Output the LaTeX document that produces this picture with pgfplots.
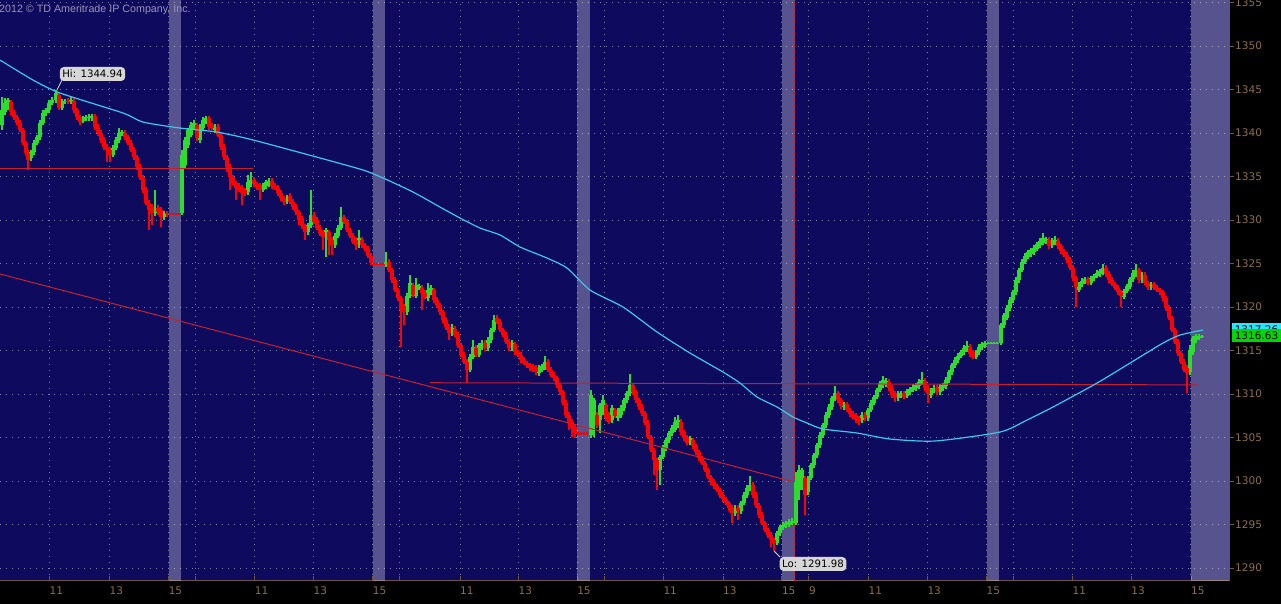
\documentclass[border=0pt]{standalone}
\usepackage{fontspec}
\usepackage{pgfplots}
\usepackage{pgfplotstable}
\pgfplotsset{compat=1.18}
\newfontfamily\dv{DejaVu Sans}
\newfontfamily\lib{Liberation Sans}
\definecolor{bg}{RGB}{14,10,94}
\definecolor{gridc}{RGB}{125,125,165}
\definecolor{axc}{RGB}{110,85,60}
\definecolor{labc}{RGB}{140,110,72}
\definecolor{upc}{RGB}{45,220,45}
\definecolor{dnc}{RGB}{255,0,0}
\definecolor{mac}{RGB}{60,200,235}
\definecolor{lvl}{RGB}{200,30,45}
\definecolor{boxg}{RGB}{215,215,215}
\definecolor{pgreen}{RGB}{0,215,0}
\definecolor{pcyan}{RGB}{40,230,255}

\pgfplotstableread{
x o h l c
2 1340.9 1344.1 1340.3 1342.6
5 1342.4 1344.0 1342.1 1343.5
8 1343.2 1344.0 1342.6 1343.8
31 1337.1 1338.1 1336.8 1337.8
34 1337.8 1339.2 1337.5 1338.9
37 1338.9 1339.8 1338.6 1339.5
40 1339.5 1341.5 1339.2 1341.2
43 1341.2 1342.6 1340.9 1342.3
46 1342.3 1342.9 1342.0 1342.6
49 1342.6 1343.8 1342.3 1343.5
52 1343.5 1344.1 1343.2 1343.8
56 1343.8 1344.94 1343.5 1344.6
62 1342.9 1343.9 1342.6 1343.6
65 1343.6 1343.9 1343.3 1343.7
71 1343.6 1344.1 1343.3 1343.8
83 1341.4 1342.0 1341.1 1341.7
86 1341.7 1342.1 1341.4 1341.8
89 1341.7 1342.2 1341.4 1341.8
92 1341.7 1342.2 1341.4 1341.9
113 1337.5 1338.6 1337.2 1338.3
116 1338.3 1339.5 1338.0 1339.2
119 1339.2 1340.6 1338.9 1340.0
122 1339.9 1340.4 1339.6 1340.1
155 1330.8 1333.45 1330.5 1331.4
164 1330.35 1331.0 1330.0 1330.7
182 1330.8 1338.05 1330.6 1337.5
185 1336.3 1339.5 1336.0 1339.2
188 1338.6 1340.6 1338.3 1340.35
191 1339.8 1341.3 1339.5 1340.9
194 1340.6 1341.5 1340.3 1341.2
200 1339.2 1341.0 1338.9 1340.7
203 1340.6 1341.8 1340.3 1341.5
206 1341.3 1342.0 1341.0 1341.7
215 1340.35 1341.0 1340.0 1340.7
248 1333.2 1335.2 1332.9 1334.4
251 1334.1 1335.5 1333.8 1334.6
263 1333.45 1334.3 1333.2 1334.0
266 1333.9 1334.6 1333.6 1334.4
269 1334.1 1334.8 1333.8 1334.5
287 1332.1 1332.9 1331.8 1332.5
308 1328.6 1329.7 1328.3 1329.4
311 1329.4 1333.45 1329.1 1330.6
326 1328.05 1329.1 1325.75 1328.85
335 1327.1 1328.5 1326.8 1328.2
338 1328.2 1329.4 1327.9 1329.1
341 1329.1 1331.5 1328.8 1330.35
359 1327.1 1328.85 1326.8 1327.9
386 1324.9 1326.3 1324.6 1325.2
407 1319.4 1321.6 1319.1 1321.3
410 1321.3 1323.7 1321.0 1322.75
416 1321.3 1323.3 1321.0 1322.5
419 1322.2 1322.7 1321.9 1322.4
428 1321.0 1322.75 1320.7 1321.95
431 1321.7 1322.5 1321.4 1322.2
452 1317.0 1318.0 1316.7 1317.6
470 1312.8 1314.6 1312.5 1314.3
473 1314.3 1316.2 1314.0 1315.4
479 1314.5 1315.9 1314.2 1315.6
482 1315.4 1316.2 1315.1 1315.9
488 1315.3 1316.5 1315.0 1316.2
491 1316.2 1317.6 1315.9 1317.35
494 1317.35 1319.1 1317.1 1318.5
512 1315.3 1316.2 1315.0 1315.9
539 1312.4 1313.3 1312.1 1313.0
542 1312.8 1313.5 1312.5 1313.2
545 1313.1 1314.4 1312.8 1313.7
591 1305.3 1310.45 1305.0 1309.9
594 1307.0 1309.6 1305.05 1309.3
600 1307.0 1309.0 1305.5 1308.7
603 1307.9 1309.9 1307.6 1309.3
612 1307.0 1308.7 1306.7 1308.4
618 1307.2 1308.4 1306.9 1308.15
621 1307.6 1308.7 1307.3 1308.4
624 1308.4 1309.6 1308.1 1309.3
627 1309.3 1310.4 1309.0 1310.1
630 1310.1 1312.3 1309.8 1311.0
660 1301.25 1303.0 1299.5 1302.75
663 1302.75 1304.1 1302.5 1303.8
666 1303.8 1305.0 1303.5 1304.7
669 1304.7 1305.8 1304.4 1305.5
672 1305.5 1306.4 1305.2 1306.1
675 1305.85 1307.35 1305.6 1306.8
678 1306.4 1307.6 1306.1 1307.0
690 1304.35 1305.2 1304.1 1304.9
735 1296.3 1297.2 1296.0 1296.9
741 1296.5 1297.7 1296.2 1297.45
744 1297.45 1298.7 1297.2 1298.4
747 1298.4 1299.5 1298.1 1299.2
750 1299.2 1300.6 1298.9 1299.6
777 1292.9 1294.3 1292.6 1294.0
780 1294.0 1295.0 1293.7 1294.7
783 1294.7 1295.3 1294.4 1295.0
786 1294.9 1295.4 1294.6 1295.15
789 1295.0 1295.6 1294.7 1295.3
792 1295.15 1295.7 1294.9 1295.4
796 1295.15 1301.0 1294.9 1299.9
799 1298.95 1301.8 1297.8 1301.25
802 1300.1 1301.5 1298.95 1301.25
808 1298.7 1300.6 1298.4 1300.35
811 1300.35 1302.1 1300.1 1301.8
814 1301.8 1303.2 1301.5 1302.95
817 1302.95 1304.4 1302.7 1304.1
820 1304.1 1305.6 1303.8 1305.3
823 1305.3 1306.7 1305.0 1306.4
826 1306.4 1307.9 1306.1 1307.6
829 1307.6 1308.8 1307.3 1308.5
832 1308.5 1309.8 1308.2 1309.5
835 1309.5 1310.9 1309.2 1310.1
844 1308.5 1309.1 1308.2 1308.85
862 1307.0 1307.9 1306.7 1307.6
868 1307.2 1308.4 1306.9 1308.15
871 1308.15 1309.3 1307.9 1309.0
874 1309.0 1309.9 1308.7 1309.65
877 1309.65 1310.7 1309.4 1310.45
880 1310.45 1311.5 1310.2 1311.25
883 1311.0 1312.05 1310.7 1311.6
886 1311.1 1311.8 1310.8 1311.5
898 1309.5 1310.4 1309.2 1310.1
901 1309.8 1310.4 1309.5 1310.1
907 1309.8 1310.6 1309.5 1310.35
910 1310.2 1310.8 1309.9 1310.55
913 1310.45 1311.1 1310.2 1310.8
916 1310.7 1311.3 1310.4 1311.0
919 1310.9 1311.7 1310.6 1311.4
922 1311.25 1312.5 1311.0 1311.6
931 1309.9 1310.7 1309.6 1310.45
934 1310.35 1311.0 1310.1 1310.7
940 1310.2 1311.1 1309.9 1310.8
943 1310.7 1311.3 1310.4 1311.0
946 1310.9 1311.9 1310.6 1311.6
949 1311.6 1312.8 1311.3 1312.5
952 1312.5 1313.6 1312.2 1313.3
955 1313.3 1314.2 1313.0 1313.9
958 1313.9 1314.7 1313.6 1314.4
961 1314.4 1315.1 1314.1 1314.8
964 1314.8 1315.6 1314.5 1315.3
967 1315.05 1316.1 1314.8 1315.5
976 1314.25 1315.1 1314.0 1314.8
979 1314.8 1315.7 1314.5 1315.4
982 1315.4 1316.0 1315.1 1315.75
985 1315.6 1316.1 1315.3 1315.85
988 1315.8 1316.0 1315.7 1315.9
991 1315.8 1316.0 1315.7 1315.9
994 1315.8 1316.0 1315.7 1315.9
997 1315.8 1316.0 1315.7 1315.9
1001 1315.85 1318.2 1315.6 1317.9
1004 1317.9 1319.3 1317.6 1319.05
1007 1318.75 1320.2 1318.5 1319.9
1010 1319.9 1321.1 1319.6 1320.8
1013 1320.8 1322.0 1320.5 1321.7
1016 1321.7 1323.4 1321.4 1323.1
1019 1323.1 1324.5 1322.8 1324.25
1022 1324.25 1325.5 1324.0 1325.2
1025 1325.2 1326.2 1324.9 1325.9
1028 1325.75 1326.6 1325.5 1326.3
1031 1326.1 1326.8 1325.8 1326.55
1034 1326.3 1327.1 1326.0 1326.8
1037 1326.7 1327.5 1326.4 1327.25
1040 1327.1 1327.9 1326.8 1327.6
1043 1327.35 1328.5 1327.1 1327.9
1046 1327.5 1328.1 1327.2 1327.8
1052 1327.1 1327.9 1326.8 1327.6
1055 1327.35 1328.2 1327.1 1327.7
1079 1321.95 1322.9 1321.7 1322.6
1082 1322.6 1323.3 1322.3 1323.0
1085 1322.9 1323.5 1322.6 1323.2
1091 1322.75 1323.6 1322.5 1323.3
1094 1323.3 1323.8 1323.0 1323.55
1097 1323.55 1324.2 1323.3 1323.9
1100 1323.8 1324.4 1323.5 1324.1
1103 1324.0 1324.95 1323.7 1324.5
1124 1321.15 1322.1 1320.9 1321.85
1127 1321.85 1322.7 1321.6 1322.4
1130 1322.4 1323.5 1322.1 1323.2
1133 1323.2 1324.2 1322.9 1323.9
1136 1323.7 1324.95 1323.4 1324.25
1142 1323.1 1324.0 1322.8 1323.7
1151 1322.3 1322.9 1322.0 1322.65
1190 1312.5 1315.6 1312.2 1315.05
1193 1314.8 1316.7 1314.5 1316.4
1196 1316.2 1316.9 1315.9 1316.65
1199 1316.4 1316.9 1316.2 1316.65
1202 1316.55 1316.8 1316.4 1316.63
}\uptab

\pgfplotstableread{
x o h l c
11 1343.6 1343.8 1342.1 1342.4
14 1342.4 1342.7 1341.5 1341.8
17 1341.8 1342.1 1340.9 1341.2
20 1341.2 1341.5 1340.1 1340.4
23 1340.4 1340.6 1338.6 1338.9
26 1338.9 1339.1 1337.4 1337.7
28 1337.7 1338.0 1335.8 1336.9
59 1344.4 1344.7 1342.6 1342.9
68 1343.7 1344.0 1343.3 1343.6
74 1343.7 1344.0 1342.3 1342.6
77 1342.6 1342.9 1341.5 1341.8
80 1341.8 1342.1 1340.9 1341.3
95 1341.9 1342.2 1340.4 1340.7
98 1340.7 1341.0 1339.7 1340.0
101 1340.0 1340.3 1338.9 1339.2
104 1339.2 1339.5 1338.1 1338.4
107 1338.4 1338.7 1336.7 1338.05
110 1338.1 1338.4 1336.7 1337.5
125 1340.0 1340.3 1339.2 1339.5
128 1339.5 1339.8 1338.6 1338.9
131 1338.9 1339.2 1337.8 1338.05
134 1338.1 1338.4 1336.9 1337.25
137 1337.25 1337.5 1335.8 1336.1
140 1336.1 1336.4 1334.6 1334.95
143 1334.95 1335.2 1333.1 1333.45
146 1333.45 1333.8 1331.7 1331.95
149 1331.95 1332.3 1328.85 1331.15
152 1331.5 1331.8 1329.4 1330.8
158 1331.4 1331.7 1330.6 1330.9
161 1331.15 1331.5 1329.2 1330.35
167 1330.8 1331.0 1330.4 1330.7
170 1330.75 1330.8 1330.6 1330.65
173 1330.75 1330.8 1330.6 1330.65
176 1330.75 1330.8 1330.6 1330.65
179 1330.75 1330.8 1330.6 1330.65
197 1340.9 1341.2 1339.1 1339.4
209 1341.7 1342.0 1340.4 1340.7
212 1340.9 1341.2 1340.3 1340.6
218 1340.7 1341.0 1339.5 1339.8
221 1339.8 1340.1 1338.1 1338.4
224 1338.4 1338.7 1336.9 1337.25
227 1337.25 1337.5 1335.5 1336.1
230 1336.1 1336.4 1333.45 1334.95
233 1334.95 1335.2 1334.0 1334.25
236 1334.25 1334.5 1332.3 1333.7
239 1333.9 1334.2 1333.2 1333.45
242 1333.7 1334.0 1331.7 1333.1
245 1333.45 1333.7 1332.8 1333.1
254 1334.6 1334.9 1333.8 1334.1
257 1334.1 1334.4 1333.5 1333.8
260 1334.0 1334.3 1332.3 1333.45
272 1334.5 1334.8 1333.6 1333.9
275 1333.9 1334.2 1333.4 1333.7
278 1333.7 1334.0 1332.8 1333.1
281 1333.1 1333.4 1332.2 1332.5
284 1332.5 1332.8 1331.7 1332.1
290 1332.8 1333.1 1331.8 1332.1
293 1332.1 1332.4 1331.2 1331.5
296 1331.5 1331.8 1330.6 1330.9
299 1330.9 1331.2 1329.4 1330.0
302 1330.2 1330.5 1329.0 1329.3
305 1329.3 1329.6 1327.7 1328.6
314 1330.6 1330.9 1329.5 1329.8
317 1330.0 1330.3 1328.8 1329.1
320 1329.1 1329.4 1328.2 1328.5
323 1328.6 1328.9 1326.55 1328.05
329 1328.6 1328.9 1326.0 1327.7
332 1327.7 1328.0 1326.0 1327.1
344 1330.35 1330.6 1329.5 1329.8
347 1329.8 1330.1 1328.6 1328.85
350 1328.85 1329.1 1327.9 1328.2
353 1328.2 1328.5 1327.2 1327.5
356 1327.7 1328.0 1326.55 1327.1
362 1327.7 1328.0 1326.8 1327.1
365 1327.1 1327.4 1326.4 1326.7
368 1326.7 1327.0 1325.6 1325.9
371 1325.9 1326.2 1324.8 1325.05
374 1325.0 1325.1 1324.8 1324.9
377 1325.0 1325.1 1324.8 1324.9
380 1325.0 1325.1 1324.8 1324.9
383 1325.0 1325.1 1324.8 1324.9
389 1325.2 1325.5 1324.0 1324.25
392 1324.25 1324.5 1322.8 1323.1
395 1323.1 1323.4 1321.7 1321.95
398 1321.95 1322.2 1320.7 1321.0
401 1321.0 1321.3 1315.4 1319.65
404 1320.1 1320.4 1317.9 1319.4
413 1322.5 1322.8 1321.1 1321.4
422 1322.2 1322.5 1319.65 1321.6
425 1321.6 1321.9 1320.9 1321.15
434 1321.95 1322.2 1320.5 1320.8
437 1320.8 1321.1 1319.9 1320.2
440 1320.2 1320.5 1319.1 1319.4
443 1319.4 1319.7 1318.2 1318.5
446 1318.5 1318.8 1317.4 1317.7
449 1317.7 1318.0 1316.2 1317.0
455 1317.5 1317.8 1316.5 1316.8
458 1316.8 1317.1 1315.3 1315.6
461 1315.6 1315.9 1314.2 1314.5
464 1314.5 1314.8 1313.4 1313.7
467 1313.7 1314.0 1311.3 1312.8
476 1315.3 1315.6 1314.2 1314.5
485 1315.9 1316.2 1315.0 1315.3
497 1318.75 1319.1 1318.0 1318.3
500 1318.3 1318.6 1317.1 1317.35
503 1317.35 1317.6 1316.5 1316.8
506 1316.8 1317.1 1315.7 1316.0
509 1316.0 1316.3 1315.0 1315.3
515 1315.7 1316.0 1314.5 1314.8
518 1314.8 1315.1 1314.2 1314.5
521 1314.5 1314.8 1313.6 1313.9
524 1313.9 1314.2 1313.3 1313.55
527 1313.55 1313.8 1313.0 1313.3
530 1313.3 1313.6 1312.7 1313.0
533 1313.2 1313.5 1312.5 1312.8
536 1313.0 1313.3 1312.2 1312.5
548 1313.7 1314.0 1312.5 1312.8
551 1312.8 1313.1 1311.9 1312.2
554 1312.2 1312.5 1311.5 1311.8
557 1311.8 1312.1 1310.7 1311.0
560 1311.0 1311.3 1309.9 1310.2
563 1310.2 1310.5 1308.7 1309.0
566 1309.0 1309.3 1307.3 1307.6
569 1307.6 1307.9 1305.85 1306.7
572 1306.8 1307.1 1305.05 1306.1
575 1306.2 1306.5 1304.9 1305.5
578 1305.5 1305.6 1305.3 1305.4
581 1305.5 1305.6 1305.3 1305.4
584 1305.5 1305.6 1305.3 1305.4
587 1305.5 1305.6 1305.3 1305.4
597 1307.6 1307.9 1306.1 1306.4
606 1308.7 1309.0 1306.9 1307.2
609 1307.6 1307.9 1306.5 1306.8
615 1308.15 1308.4 1307.2 1307.45
633 1311.0 1311.3 1309.9 1310.2
636 1310.2 1310.5 1309.0 1309.3
639 1309.3 1309.6 1308.2 1308.5
642 1308.5 1308.8 1307.5 1307.8
645 1307.8 1308.1 1306.4 1306.7
648 1306.7 1307.0 1304.8 1305.05
651 1305.05 1305.3 1303.3 1303.55
654 1303.55 1303.8 1300.7 1302.4
657 1302.4 1302.7 1298.95 1301.25
681 1306.8 1307.1 1305.3 1305.6
684 1305.6 1305.9 1304.6 1304.9
687 1305.05 1305.3 1304.1 1304.35
693 1304.7 1305.0 1303.7 1304.0
696 1304.0 1304.3 1303.0 1303.3
699 1303.3 1303.6 1302.3 1302.6
702 1302.6 1302.9 1301.8 1302.05
705 1302.05 1302.3 1301.0 1301.25
708 1301.25 1301.5 1300.2 1300.45
711 1300.45 1300.7 1299.6 1299.9
714 1299.9 1300.2 1299.1 1299.4
717 1299.4 1299.7 1298.7 1298.95
720 1298.95 1299.2 1298.1 1298.4
723 1298.4 1298.7 1297.6 1297.9
726 1297.9 1298.2 1297.2 1297.45
729 1297.45 1297.7 1296.6 1296.9
732 1296.9 1297.2 1295.15 1296.3
738 1296.9 1297.2 1295.5 1296.5
753 1299.6 1299.9 1298.1 1298.4
756 1298.4 1298.7 1296.9 1297.2
759 1297.2 1297.5 1295.8 1296.1
762 1296.1 1296.4 1294.9 1295.15
765 1295.15 1295.4 1294.1 1294.35
768 1294.35 1294.6 1293.5 1293.8
771 1293.8 1294.1 1292.4 1293.2
774 1293.2 1293.5 1291.98 1292.9
805 1300.35 1300.6 1296.1 1298.4
838 1310.1 1310.4 1309.0 1309.3
841 1309.3 1309.6 1308.3 1308.6
847 1308.85 1309.1 1307.9 1308.15
850 1308.15 1308.4 1307.4 1307.7
853 1307.7 1308.0 1307.1 1307.35
856 1307.5 1307.8 1306.7 1307.0
859 1307.2 1307.5 1306.4 1306.9
865 1307.6 1307.9 1306.9 1307.2
889 1311.4 1311.7 1310.4 1310.7
892 1310.7 1311.0 1309.6 1309.9
895 1310.1 1310.4 1309.1 1309.5
904 1310.1 1310.4 1309.4 1309.65
925 1311.5 1311.8 1310.4 1310.7
928 1310.7 1311.0 1309.0 1310.0
937 1310.7 1311.0 1309.9 1310.2
970 1315.4 1315.7 1314.3 1314.6
973 1314.8 1315.1 1314.0 1314.25
1049 1327.7 1328.0 1326.7 1327.0
1058 1327.6 1327.9 1326.7 1327.0
1061 1327.0 1327.3 1326.1 1326.4
1064 1326.4 1326.7 1325.7 1326.0
1067 1326.0 1326.3 1325.1 1325.4
1070 1325.4 1325.7 1324.2 1324.5
1073 1324.5 1324.8 1323.0 1323.3
1076 1323.3 1323.6 1320.0 1322.3
1088 1323.2 1323.5 1322.5 1322.75
1106 1324.5 1324.8 1323.5 1323.8
1109 1323.8 1324.1 1322.8 1323.1
1112 1323.1 1323.4 1322.4 1322.65
1115 1322.65 1322.9 1321.9 1322.2
1118 1322.2 1322.5 1321.4 1321.7
1121 1321.7 1322.0 1320.0 1321.3
1139 1324.25 1324.5 1322.8 1323.1
1145 1323.7 1324.0 1322.5 1322.75
1148 1322.75 1323.0 1322.0 1322.3
1154 1322.65 1322.9 1321.9 1322.2
1157 1322.2 1322.5 1321.7 1321.95
1160 1321.95 1322.2 1321.4 1321.7
1163 1321.7 1322.0 1320.7 1321.0
1166 1321.0 1321.3 1319.6 1319.9
1169 1319.9 1320.2 1318.5 1318.75
1172 1318.75 1319.0 1317.1 1317.35
1175 1317.35 1317.6 1315.7 1316.0
1178 1316.0 1316.3 1314.4 1314.7
1181 1314.7 1315.0 1313.4 1313.7
1184 1313.7 1314.0 1312.5 1312.75
1187 1313.0 1313.3 1310.1 1312.4
}\dntab

\begin{document}
\begin{tikzpicture}[x=1pt,y=1pt]
\fill[black] (0,-23) rectangle (1281,581);
\begin{axis}[
  at={(0,0)}, anchor=south west,
  scale only axis, width=1229pt, height=581pt,
  xmin=0, xmax=1229, ymin=1288.51, ymax=1355.29,
  axis background/.style={fill=bg},
  axis x line*=bottom, axis y line*=right,
  axis line style={draw=axc, line width=1pt},
  xtick={49.4,109.4,168.6,195.5,254.7,313.5,372.7,399.2,460,518.4,577.1,604.1,663.3,723,781.8,808.8,868.4,927.3,986.5,1013.1,1072.4,1131.2,1190.9},
  xticklabels={11,13,15,,11,13,15,,11,13,15,,11,13,15,9,11,13,15,,11,13,15},
  ytick={1290,1295,...,1355},
  tick align=inside, major tick length=5pt,
  tick style={draw=axc, line width=0.8pt},
  ytick style={xshift=5pt},
  grid=major,
  major grid style={draw=gridc, line width=0.9pt, dash pattern=on 0.9pt off 5.1pt},
  ticklabel style={font=\dv\fontsize{10.5}{12}\selectfont, text=labc},
  xticklabel style={anchor=north west, inner sep=0pt, yshift=-6pt},
  yticklabel style={anchor=west, inner sep=0pt, xshift=6pt},
  /pgf/number format/1000 sep={},
  /pgf/number format/assume math mode=true,
  clip=true,
]
% session bands
\addplot[draw=none, fill=white, fill opacity=0.3, forget plot] coordinates {(168.6,1288.51) (168.6,1355.29) (180.8,1355.29) (180.8,1288.51)} -- cycle;
\addplot[draw=none, fill=white, fill opacity=0.3, forget plot] coordinates {(372.7,1288.51) (372.7,1355.29) (385,1355.29) (385,1288.51)} -- cycle;
\addplot[draw=none, fill=white, fill opacity=0.3, forget plot] coordinates {(577.1,1288.51) (577.1,1355.29) (589.5,1355.29) (589.5,1288.51)} -- cycle;
\addplot[draw=none, fill=white, fill opacity=0.3, forget plot] coordinates {(781.8,1288.51) (781.8,1355.29) (794.5,1355.29) (794.5,1288.51)} -- cycle;
\addplot[draw=none, fill=white, fill opacity=0.3, forget plot] coordinates {(986.5,1288.51) (986.5,1355.29) (999,1355.29) (999,1288.51)} -- cycle;
\addplot[draw=none, fill=white, fill opacity=0.3, forget plot] coordinates {(1190.9,1288.51) (1190.9,1355.29) (1229,1355.29) (1229,1288.51)} -- cycle;
\addplot[lvl, dashed, line width=0.8pt, forget plot] coordinates {(794.5,1288.51) (794.5,1355.29)};
% candles: wicks
\addplot[draw=none, mark=none, forget plot,
  error bars/.cd, y dir=minus, y explicit, error mark=none,
  error bar style={draw=upc, line width=1.1pt}]
  table[x=x, y=h, y error minus expr={\thisrow{h}-\thisrow{l}}] {\uptab};
\addplot[draw=none, mark=none, forget plot,
  error bars/.cd, y dir=minus, y explicit, error mark=none,
  error bar style={draw=dnc, line width=1.1pt}]
  table[x=x, y=h, y error minus expr={\thisrow{h}-\thisrow{l}}] {\dntab};
% candles: bodies
\addplot[draw=none, mark=none, forget plot,
  error bars/.cd, y dir=minus, y explicit, error mark=none,
  error bar style={draw=upc, line width=3.2pt}]
  table[x=x, y=c, y error minus expr={\thisrow{c}-\thisrow{o}}] {\uptab};
\addplot[draw=none, mark=none, forget plot,
  error bars/.cd, y dir=minus, y explicit, error mark=none,
  error bar style={draw=dnc, line width=3.2pt}]
  table[x=x, y=o, y error minus expr={\thisrow{o}-\thisrow{c}}] {\dntab};
% level lines
\addplot[lvl, line width=1pt, forget plot] coordinates {(0,1335.9) (253,1335.9)};
\addplot[lvl, line width=1pt, forget plot] coordinates {(430,1311.3) (1197,1311.05)};
\addplot[lvl, line width=1pt, forget plot] coordinates {(0,1323.8) (794,1299.9)};
% moving average
\addplot[mac, line width=1.2pt, smooth, tension=0.4, forget plot] coordinates {
(0,1348.39) (33,1346.09) (60,1344.60) (123,1342.30) (143,1341.26) (180,1340.57)
(217,1340.11) (253,1339.20) (320,1337.13) (363,1335.75) (383,1334.83) (413,1333.22)
(440,1331.49) (460,1330.23) (480,1329.08) (500,1328.28) (520,1326.90) (547,1325.63)
(567,1324.48) (590,1321.95) (623,1320.00) (657,1317.13) (690,1314.71) (723,1312.53)
(740,1311.26) (757,1309.66) (777,1308.51) (793,1307.36) (807,1306.67) (823,1305.98)
(857,1305.52) (890,1304.83) (935,1304.60) (1000,1305.63) (1027,1307.01) (1053,1308.51)
(1097,1311.26) (1130,1313.56) (1163,1315.86) (1180,1316.78) (1203,1317.36)};
\end{axis}
% annotations
\node[anchor=north west, inner sep=0pt, font=\lib\fontsize{10.7}{12}\selectfont, text={rgb,255:red,150;green,150;blue,178}] at (-1,576) {2012 © TD Ameritrade IP Company, Inc.};
\draw[boxg, line width=0.8pt] (62,501) -- (57,491);
\node[fill=boxg, rounded corners=4pt, inner sep=2.5pt, minimum height=14pt, font=\dv\fontsize{10.2}{11}\selectfont, text=black] at (92.5,507) {Hi: 1344.94};
\draw[boxg, line width=0.8pt] (780,24) -- (774,30);
\node[fill=boxg, rounded corners=4pt, inner sep=2.5pt, minimum height=14pt, font=\dv\fontsize{10.2}{11}\selectfont, text=black] at (813,17) {Lo: 1291.98};
\node[fill=pcyan, minimum width=49pt, minimum height=13pt, inner sep=0pt, font=\dv\fontsize{10.5}{12}\selectfont, text=black] at (1256.5,251.5) {1317.26};
\node[fill=pgreen, minimum width=49pt, minimum height=13pt, inner sep=0pt, font=\dv\fontsize{10.5}{12}\selectfont, text=black] at (1256.5,245.5) {1316.63};
\pgfresetboundingbox
\path[use as bounding box] (0,-23) rectangle (1281,581);
\end{tikzpicture}
\end{document}
